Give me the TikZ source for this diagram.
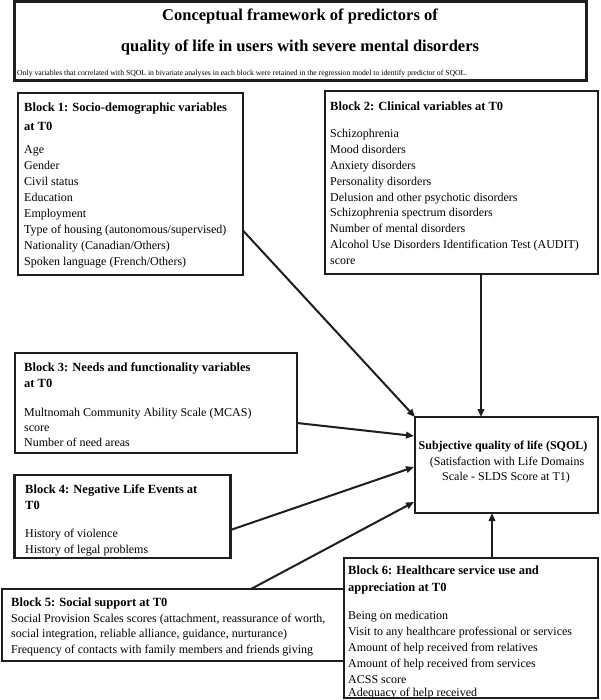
\documentclass[tikz,border=0pt]{standalone}
\usepackage{fontspec}
\setmainfont{Liberation Serif}
\usetikzlibrary{arrows.meta}
\definecolor{ink}{HTML}{1E1E1E}
\begin{document}
\begin{tikzpicture}[x=1pt,y=-1pt,
  box/.style={draw=ink, line width=2.4pt, inner sep=0pt, outer sep=0pt, anchor=north west},
  ttl/.style={anchor=base west, inner sep=0pt, font=\fontsize{12.5}{15}\selectfont\bfseries},
  itm/.style={anchor=base west, inner sep=0pt, font=\fontsize{12}{15}\selectfont},
  big/.style={anchor=base, inner sep=0pt, font=\fontsize{16.5}{20}\selectfont\bfseries},
  arr/.style={draw=ink, line width=2pt, -{Triangle[length=8pt,width=6.5pt]}},
]
\useasboundingbox (0,0) rectangle (600,700);
% boxes
\node[box, line width=3pt, minimum width=572pt, minimum height=79pt] (tb) at (14,2) {};
\node[box, minimum width=225pt, minimum height=182pt] (b1) at (18,93) {};
\node[box, minimum width=273pt, minimum height=183pt] (b2) at (325,91) {};
\node[box, minimum width=282pt, minimum height=100pt] (b3) at (15,353) {};
\node[box, minimum width=216pt, minimum height=83pt] (b4) at (14.5,475) {};
\node[box, minimum width=342pt, minimum height=72pt] (b5) at (2,589) {};
\node[box, minimum width=254pt, minimum height=140pt] (b6) at (344,558) {};
\node[box, minimum width=183pt, minimum height=96pt] (sq) at (415,417) {};
% title
\node[big] (t1) at (300,21) {Conceptual framework of predictors of};
\node[big] (t2) at (300,52) {quality of life in users with severe mental disorders};
\node[anchor=base west, inner sep=0pt, font=\fontsize{7.7}{9}\selectfont] (tn) at (17,75.5) {Only variables that correlated with SQOL in bivariate analyses in each block were retained in the regression model to identify predictor of SQOL.};
% block 1
\node[ttl] (b1t1) at (24,112) {Block 1: Socio-demographic variables};
\node[ttl] (b1t2) at (24,131) {at T0};
\node[itm] (b1i1) at (24,154) {Age};
\node[itm] (b1i2) at (24,170) {Gender};
\node[itm] (b1i3) at (24,186) {Civil status};
\node[itm] (b1i4) at (24,202) {Education};
\node[itm] (b1i5) at (24,218) {Employment};
\node[itm] (b1i6) at (24,234) {Type of housing (autonomous/supervised)};
\node[itm] (b1i7) at (24,250) {Nationality (Canadian/Others)};
\node[itm] (b1i8) at (24,265.5) {Spoken language (French/Others)};
% block 2
\node[ttl] (b2t1) at (330,110.5) {Block 2: Clinical variables at T0};
\node[itm] (b2i1) at (330,137.5) {Schizophrenia};
\node[itm] (b2i2) at (330,153.4) {Mood disorders};
\node[itm] (b2i3) at (330,169.3) {Anxiety disorders};
\node[itm] (b2i4) at (330,185.2) {Personality disorders};
\node[itm] (b2i5) at (330,201.1) {Delusion and other psychotic disorders};
\node[itm] (b2i6) at (330,217) {Schizophrenia spectrum disorders};
\node[itm] (b2i7) at (330,232.9) {Number of mental disorders};
\node[itm] (b2i8) at (330,248.8) {Alcohol Use Disorders Identification Test (AUDIT)};
\node[itm] (b2i9) at (330,264.7) {score};
% block 3
\node[ttl] (b3t1) at (24,371.5) {Block 3: Needs and functionality variables};
\node[ttl] (b3t2) at (24,387.5) {at T0};
\node[itm] (b3i1) at (24,416.5) {Multnomah Community Ability Scale (MCAS)};
\node[itm] (b3i2) at (24,431.5) {score};
\node[itm] (b3i3) at (24,446.5) {Number of need areas};
% block 4
\node[ttl] (b4t1) at (25,493.5) {Block 4: Negative Life Events at};
\node[ttl] (b4t2) at (25,509.5) {T0};
\node[itm] (b4i1) at (25,537.5) {History of violence};
\node[itm] (b4i2) at (25,553.5) {History of legal problems};
% block 5
\node[ttl] (b5t1) at (11,606.5) {Block 5: Social support at T0};
\node[itm] (b5i1) at (11,622.5) {Social Provision Scales scores (attachment, reassurance of worth,};
\node[itm] (b5i2) at (11,637.5) {social integration, reliable alliance, guidance, nurturance)};
\node[itm] (b5i3) at (11,653.5) {Frequency of contacts with family members and friends giving};
% block 6
\node[ttl] (b6t1) at (348,574.5) {Block 6: Healthcare service use and};
\node[ttl] (b6t2) at (348,591.5) {appreciation at T0};
\node[itm] (b6i1) at (348,619.5) {Being on medication};
\node[itm] (b6i2) at (348,635.5) {Visit to any healthcare professional or services};
\node[itm] (b6i3) at (348,651.5) {Amount of help received from relatives};
\node[itm] (b6i4) at (348,667.5) {Amount of help received from services};
\node[itm] (b6i5) at (348,683.5) {ACSS score};
\node[itm] (b6i6) at (348,696) {Adequacy of help received};
% SQOL
\node[anchor=base, inner sep=0pt, font=\fontsize{12}{15}\selectfont\bfseries] (sqt) at (503,449.5) {Subjective quality of life (SQOL)};
\node[anchor=base, inner sep=0pt, font=\fontsize{12}{15}\selectfont] (sq1) at (507,465.5) {(Satisfaction with Life Domains};
\node[anchor=base, inner sep=0pt, font=\fontsize{12}{15}\selectfont] (sq2) at (506,480.5) {Scale - SLDS Score at T1)};
% connector start/end points
\coordinate (a1) at (242.5,230);
\coordinate (a2) at (481,274);
\coordinate (a3) at (297,423);
\coordinate (a4) at (230.5,530);
\coordinate (a5) at (251,589);
\coordinate (a6) at (492,558);
\coordinate (e3) at (414,436);
\coordinate (e4) at (414,467);
\coordinate (e5) at (414,502);
\draw[arr] (a1) -- (sq.north west);
\draw[arr] (a2) -- (a2 |- sq.north);
\draw[arr] (a3) -- (e3);
\draw[arr] (a4) -- (e4);
\draw[arr] (a5) -- (e5);
\draw[arr] (a6) -- (a6 |- sq.south);
\end{tikzpicture}
\end{document}
